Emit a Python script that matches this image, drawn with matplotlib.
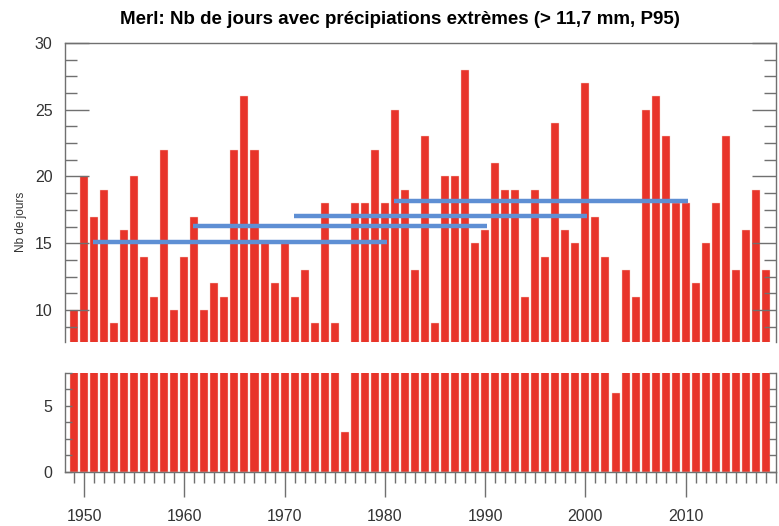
import numpy as np
import matplotlib
matplotlib.use('Agg')
import matplotlib.pyplot as plt
from matplotlib.ticker import MultipleLocator

plt.rcParams['font.family'] = ['Liberation Sans', 'DejaVu Sans']

# nombre de jours > P95 par annee (Merl)
years = list(range(1949, 2019))
jours = [10, 20, 17, 19, 9, 16, 20, 14, 11, 22,
         10, 14, 17, 10, 12, 11, 22, 26, 22, 15,
         12, 15, 11, 13, 9, 18, 9, 3, 18, 18,
         22, 18, 25, 19, 13, 23, 9, 20, 20, 28,
         15, 16, 21, 19, 19, 11, 19, 14, 24, 16,
         15, 27, 17, 14, 6, 13, 11, 25, 26, 23,
         18, 18, 12, 15, 18, 23, 13, 16, 19, 13]
# periodes de reference (normales 30 ans)
periodes = [(1951, 1980), (1961, 1990), (1971, 2000), (1981, 2010)]

rouge = '#e8342a'
bleu = '#5e8fd4'
gris = '#707070'

fig = plt.figure(figsize=(7.79, 5.26), dpi=100)
ax1 = fig.add_axes([0.0834, 0.3498, 0.9127, 0.5685])
ax2 = fig.add_axes([0.0834, 0.1027, 0.9127, 0.1882])

for ax in (ax1, ax2):
    ax.bar(years, jours, width=0.8, color=rouge, edgecolor='#f6d0c8', linewidth=0.3)
    ax.set_xlim(1948.1, 2019.0)
    for s in ax.spines.values():
        s.set_color(gris)
        s.set_linewidth(1.0)

arr = np.array(jours)
yrs = np.array(years)
for a, b in periodes:
    m = arr[(yrs >= a) & (yrs <= b)].mean()
    ax1.plot([a - 0.1, b + 0.2], [m, m], color=bleu, lw=3.2, solid_capstyle='butt', zorder=5)

# panneau haut
ax1.set_ylim(7.6, 30)
ax1.spines['bottom'].set_visible(False)
ax1.set_xticks([])
ax1.yaxis.set_minor_locator(MultipleLocator(1.25))
ax1.set_yticks([10, 15, 20, 25, 30])
ax1.tick_params(axis='y', which='major', direction='in', length=17, width=1, pad=9,
                color=gris, left=True, right=True, labelsize=11.5, labelcolor='#333333')
ax1.tick_params(axis='y', which='minor', direction='in', length=8.5, width=1,
                color=gris, left=True, right=True)

# panneau bas
ax2.set_ylim(0, 7.5)
ax2.spines['top'].set_visible(False)
ax2.set_yticks([0, 5])
ax2.yaxis.set_minor_locator(MultipleLocator(1.25))
ax2.tick_params(axis='y', which='both', direction='in', length=5, width=1, pad=9,
                color=gris, left=True, right=True, labelsize=11.5, labelcolor='#333333')
ax2.set_xticks([1950, 1960, 1970, 1980, 1990, 2000, 2010])
ax2.xaxis.set_minor_locator(MultipleLocator(1))
ax2.tick_params(axis='x', which='major', direction='out', length=18, width=1,
                color=gris, labelsize=11.5, labelcolor='#333333', pad=9)
ax2.tick_params(axis='x', which='minor', direction='out', length=8, width=1, color=gris)

fig.text(0.027, 0.578, 'Nb de jours', rotation=90, ha='center', va='center',
         fontsize=8.5, color='#333333')
fig.text(0.513, 0.962, 'Merl: Nb de jours avec précipiations extrèmes (> 11,7 mm, P95)',
         ha='center', va='center', fontsize=13.5, fontweight='bold')

fig.savefig('out.png', dpi=100, facecolor='white')
